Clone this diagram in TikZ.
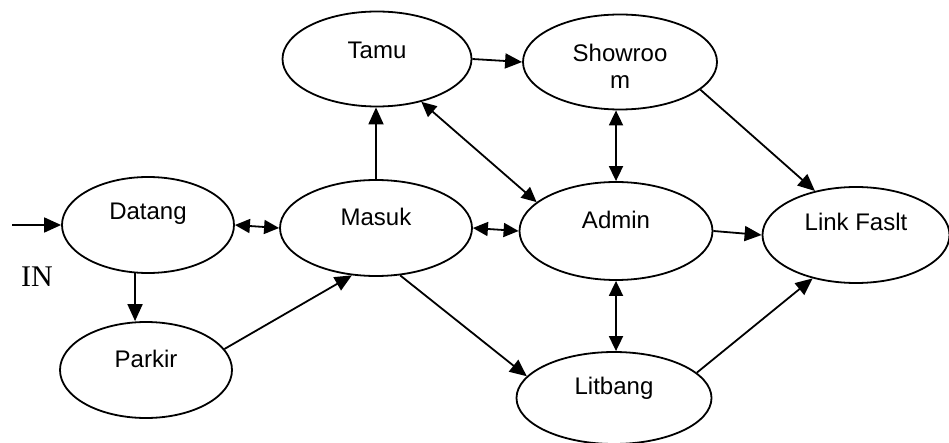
\documentclass[tikz,border=0pt]{standalone}
\usepackage{fontspec}
\setmainfont{Liberation Sans}
\newfontfamily\inserif{Liberation Serif}
\usetikzlibrary{shapes.geometric,arrows.meta}

\tikzset{
	state/.style={draw, ellipse, line width=1.8pt, inner sep=0pt, minimum height=96pt},
	txt/.style={yshift=11pt},
	flow/.style={line width=1.8pt, -{Triangle[length=17pt,width=15pt]}},
	both/.style={line width=1.8pt, {Triangle[length=15pt,width=14pt]}-{Triangle[length=15pt,width=14pt]}}
}

\begin{document}
\begin{tikzpicture}[x=1pt, y=-1pt, font=\fontsize{24}{27}\selectfont]
	\useasboundingbox (0,0) rectangle (949,443);
	% ellipses
	\node[state, minimum width=172pt, label={[txt]center:Datang}] (datang) at (148,225) {};
	\node[state, minimum width=172pt, label={[txt]center:Parkir}] (parkir) at (146,370) {};
	\node[state, minimum width=192pt, label={[txt]center:Masuk}] (masuk) at (376,228) {};
	\node[state, minimum width=189pt, minimum height=95pt, label={[yshift=9pt]center:Tamu}] (tamu) at (377,59) {};
	\node[state, minimum width=194pt, minimum height=95pt, label={[align=center,yshift=-4.5pt]center:{Showroo\\m}}] (showroom) at (620,62) {};
	\node[state, minimum width=193pt, minimum height=98pt, label={[txt]center:Admin}] (admin) at (616,231) {};
	\node[state, minimum width=187pt, label={[yshift=13pt]center:Link Faslt}] (linkfas) at (856,235) {};
	\node[state, minimum width=195pt, minimum height=92pt, label={[yshift=10pt]center:Litbang}] (litbang) at (614,398) {};
	\node[font=\inserif\fontsize{30}{30}\selectfont] (in) at (37,277) {IN};
	\coordinate (start) at (12,225);
	% connectors
	\draw[flow] (start) -- (datang.west);
	\draw[both] (datang.east) -- (masuk.west);
	\draw[flow] (datang.-105) -- (datang.-105 |- parkir.north);
	\draw[flow] (parkir.15) -- (masuk.-117);
	\draw[flow] (masuk.north) -- (masuk.north |- tamu.south);
	\draw[flow] (masuk.-63) -- (litbang.166);
	\draw[both] (masuk.east) -- (admin.west);
	\draw[flow] (tamu.east) -- (showroom.west);
	\draw[both] (tamu.-44) -- (admin.160);
	\draw[both] (admin.north) -- (admin.north |- showroom.south);
	\draw[both] (admin.south) -- (admin.south |- litbang.north);
	\draw[flow] (admin.east) -- (linkfas.west);
	\draw[flow] (showroom.-19) -- (linkfas.133);
	\draw[flow] (litbang.17) -- (linkfas.-135);
\end{tikzpicture}
\end{document}
